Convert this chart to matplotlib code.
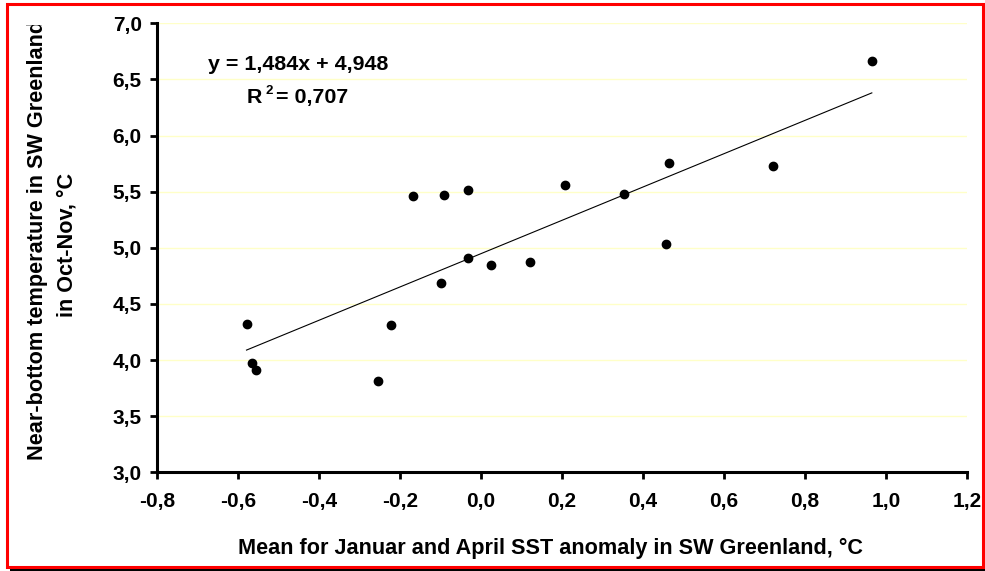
import numpy as np
import matplotlib.pyplot as plt
from matplotlib.patches import Rectangle
from matplotlib.transforms import Bbox

plt.rcParams['font.family'] = ['Liberation Sans', 'DejaVu Sans']
plt.rcParams['font.weight'] = 'bold'
plt.rcParams['axes.unicode_minus'] = False

# mean Jan/Apr SST anomaly vs near-bottom temperature in Oct-Nov
sst_anom = [-0.579, -0.565, -0.555, -0.254, -0.223, -0.169, -0.098, -0.091, -0.033,
            -0.031, 0.024, 0.122, 0.207, 0.352, 0.458, 0.465, 0.722, 0.965]
bottom_temp = [4.324, 3.971, 3.909, 3.811, 4.310, 5.459, 4.689, 5.470, 4.906,
               5.518, 4.850, 4.871, 5.557, 5.482, 5.031, 5.753, 5.726, 6.664]

# linear trend as printed on the chart
slope = 1.484
intercept = 4.948
eq_text = "y = 1,484x + 4,948"
r2_text = "= 0,707"

xticks = [-0.8, -0.6, -0.4, -0.2, 0.0, 0.2, 0.4, 0.6, 0.8, 1.0, 1.2]
xlabels = ['-0,8', '-0,6', '-0,4', '-0,2', '0,0', '0,2', '0,4', '0,6', '0,8', '1,0', '1,2']
yticks = [3.0, 3.5, 4.0, 4.5, 5.0, 5.5, 6.0, 6.5, 7.0]
ylabels = ['3,0', '3,5', '4,0', '4,5', '5,0', '5,5', '6,0', '6,5', '7,0']

W, H = 985, 571


def fx(px):
    return px / W


def fy(py):
    return 1 - py / H


fig = plt.figure(figsize=(W / 100, H / 100), dpi=100)

# shadow + red frame around the chart
fig.patches.append(Rectangle((fx(10), fy(572)), fx(976), 565 / H, transform=fig.transFigure,
                             facecolor='black', edgecolor='none', zorder=-3))
fig.patches.append(Rectangle((fx(6.5), fy(566.5)), fx(976.5), 563 / H, transform=fig.transFigure,
                             facecolor='white', edgecolor='#ff0000', linewidth=2.2, zorder=-2))

ax = fig.add_axes([fx(157), fy(472.3), fx(967 - 157), (472.3 - 23.3) / H])
ax.patch.set_alpha(0)

ax.set_xlim(-0.8, 1.2)
ax.set_ylim(3.0, 7.0)
ax.set_xticks(xticks)
ax.set_xticklabels(xlabels)
ax.set_yticks(yticks)
ax.set_yticklabels(ylabels)

for y in yticks[1:]:
    ax.axhline(y, color='#ffffc8', linewidth=1, zorder=0)

for s in ['top', 'right']:
    ax.spines[s].set_visible(False)
for s in ['left', 'bottom']:
    ax.spines[s].set_linewidth(2.2)

ax.tick_params(axis='both', direction='out', length=5, width=2, labelsize=15, colors='black')
ax.tick_params(axis='x', pad=9)
ax.tick_params(axis='y', pad=6)
for lab in ax.get_xticklabels() + ax.get_yticklabels():
    lab.set_fontweight('bold')

ax.scatter(sst_anom, bottom_temp, s=36, color='black', zorder=3, clip_on=False)

xs = np.array([min(sst_anom), max(sst_anom)])
ax.plot(xs, slope * xs + intercept, color='black', linewidth=0.8, zorder=2)

# trend equation and R^2 (small raised 2 like the original)
fig.text(fx(208), fy(70), eq_text, fontsize=15.4, fontweight='bold', ha='left', va='baseline')
fig.text(fx(247), fy(103), "R", fontsize=15.4, fontweight='bold', ha='left', va='baseline')
fig.text(fx(265), fy(94), "2", fontsize=9.5, fontweight='bold', ha='left', va='baseline')
fig.text(fx(276), fy(103), r2_text, fontsize=15.4, fontweight='bold', ha='left', va='baseline')

fig.text(fx(550), fy(554), "Mean for Januar and April SST anomaly in SW Greenland, \u00b0C",
         fontsize=15.6, fontweight='bold', ha='center', va='baseline')

clip = Bbox([[0, 0], [W, H - 25]])
t1 = fig.text(fx(43), fy(460), "Near-bottom temperature in SW Greenland", rotation=90,
              rotation_mode='anchor', fontsize=15.6, fontweight='bold', ha='left', va='baseline')
t1.set_clip_box(clip)
t1.set_clip_on(True)
fig.text(fx(72), fy(317), "in Oct-Nov, \u00b0C", rotation=90, rotation_mode='anchor',
         fontsize=15.6, fontweight='bold', ha='left', va='baseline')

fig.savefig('out.png', dpi=100)
